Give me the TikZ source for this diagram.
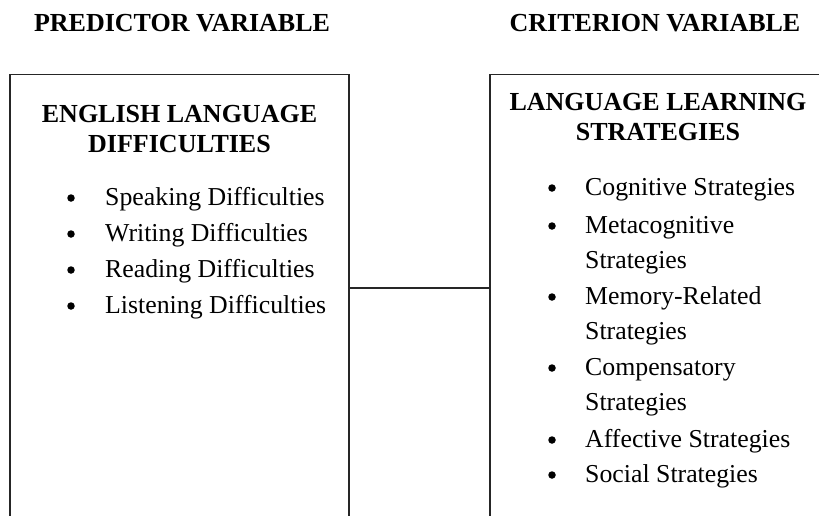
\documentclass[tikz,border=0pt]{standalone}
\usepackage{fontspec}
\setmainfont{Liberation Serif}
\usetikzlibrary{calc}
\tikzset{
  varbox/.style={draw=black!85, line width=1.2pt, minimum width=#1, minimum height=480pt, anchor=north, inner sep=0pt},
  head/.style={font=\fontsize{26}{30}\selectfont\bfseries, align=center, anchor=base, inner sep=0pt},
  item/.style={font=\fontsize{25.8}{35.8}\selectfont, align=left, anchor=base west, inner sep=0pt},
  dot/.style={circle, fill=black, inner sep=0pt, minimum size=7.5pt},
}

\begin{document}
\begin{tikzpicture}[x=1pt,y=-1pt]
	%%%%% START %%%%%
	\useasboundingbox (0,0) rectangle (819,515);
	\clip (0,0) rectangle (819,515);
	
	\node[head] (predhead) at (182,31) {PREDICTOR VARIABLE};
	\node[head] (crithead) at (655,31) {CRITERION VARIABLE};
	
	\node[varbox=339pt] (pred) at (179.5,74) {};
	\node[varbox=336pt] (crit) at (658,74) {};
	
	% base = baseline of the last line
	\node[head] (predtitle) at (179.5,152) {ENGLISH LANGUAGE\\DIFFICULTIES};
	\node[head] (crittitle) at (658,140) {LANGUAGE LEARNING\\STRATEGIES};
	
	\foreach \txt [count=\i] in {Speaking Difficulties, Writing Difficulties, Reading Difficulties, Listening Difficulties} {
		\node[dot] (pdot\i) at (71,{198+36*(\i-1)}) {};
		\node[item] (pitem\i) at (105,{205+36*(\i-1)}) {\txt};
	}
	
	\foreach \y/\yy/\txt [count=\i] in {195/195/Cognitive Strategies, 233/268.8/{Metacognitive\\Strategies}, 304/339.8/{Memory-Related\\Strategies}, 375/410.8/{Compensatory\\Strategies}, 447/447/Affective Strategies, 482/482/Social Strategies} {
		\node[dot] (cdot\i) at (552,\y-7) {};
		\node[item] (citem\i) at (585,\yy) {\txt};
	}
	
	\coordinate (link) at (0,288);
	\draw[line width=1.2pt, color=black!85] (pred.east |- link) -- (crit.west |- link);
	
	%%%%% END %%%%%
\end{tikzpicture}
\end{document}
